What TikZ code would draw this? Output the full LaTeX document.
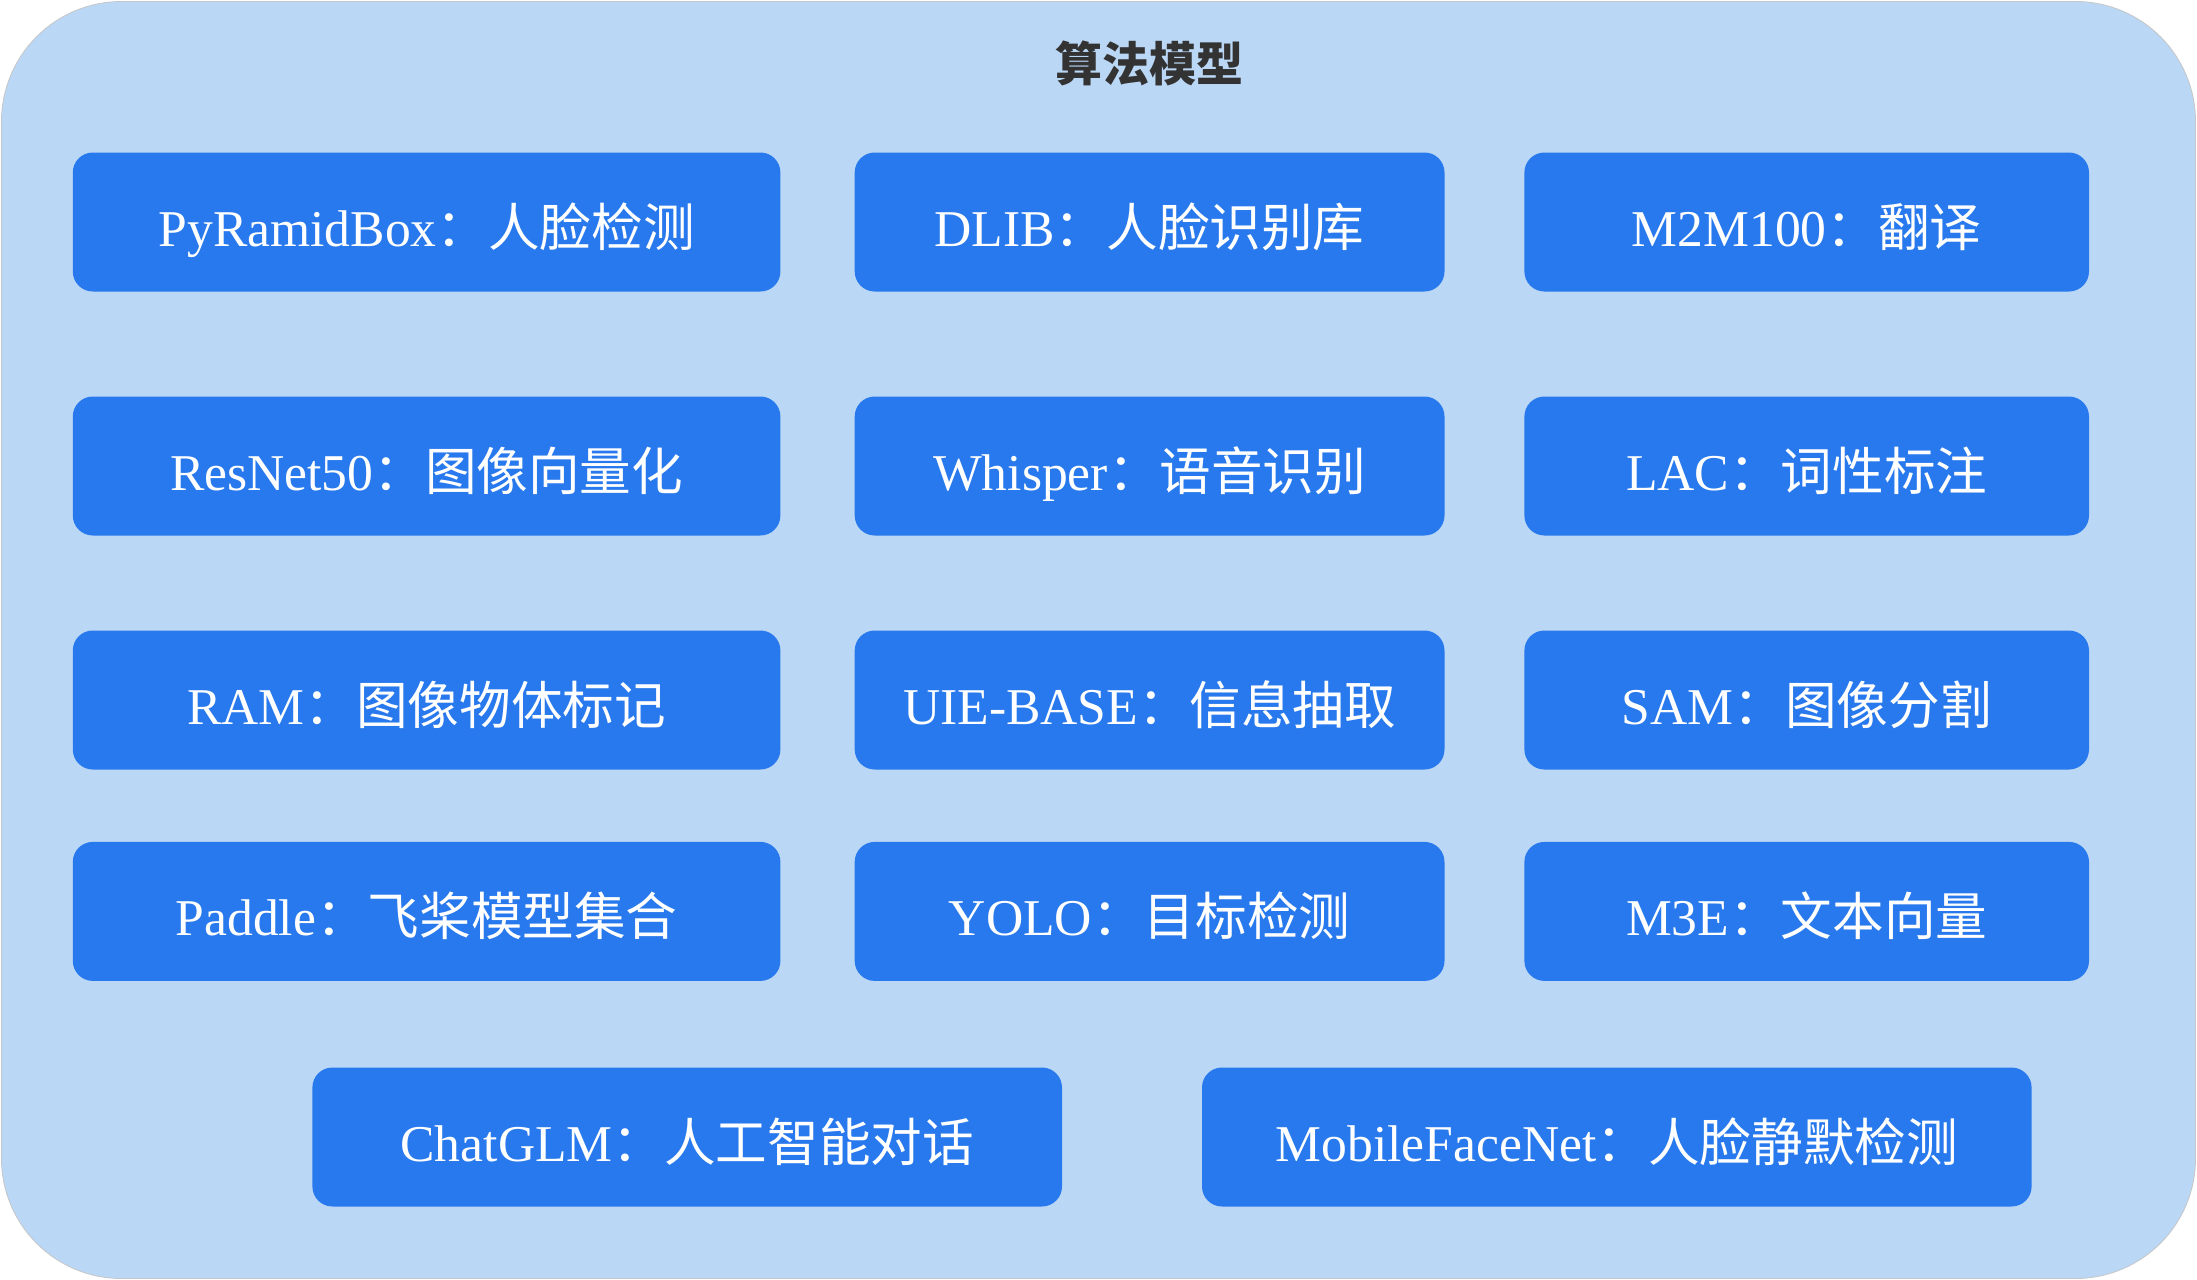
\documentclass[tikz,border=0pt]{standalone}
\usepackage{fontspec}
\setmainfont{Liberation Serif}
\newfontfamily\cjk{Noto Sans CJK SC}
\usepackage{xcolor}
\usetikzlibrary{positioning}
\definecolor{panelblue}{RGB}{186,215,245}
\definecolor{modelblue}{RGB}{40,121,237}
\definecolor{titlegray}{RGB}{51,51,51}
\tikzstyle{modelbox}=[fill=modelblue, rounded corners=10pt, minimum height=69.5pt, inner sep=0pt, text height=27pt, text depth=3pt, text=white, font=\fontsize{25.8}{30}\selectfont]
\newcommand{\colAw}{353.8pt}
\newcommand{\colBw}{294.9pt}
\newcommand{\colCw}{282.3pt}
\newcommand{\mlabel}[2]{#1{\cjk ：#2}}

\begin{document}
\begin{tikzpicture}[x=0.5pt, y=-0.5pt]
\useasboundingbox (0,0) rectangle (2197,1280);
\draw[fill=panelblue, draw=gray!45, rounded corners=60pt] (1.5,1.5) rectangle (2195.5,1278.5);
\node[font=\cjk\bfseries\fontsize{23.5}{28}\selectfont, text=titlegray] (title) at (1149,63) {算法模型};
% row 1
\node[modelbox, minimum width=\colAw] (pyramid) at (426.6,222) {\mlabel{PyRamidBox}{人脸检测}};
\node[modelbox, minimum width=\colBw] (dlib) at (1149.6,222) {\mlabel{DLIB}{人脸识别库}};
\node[modelbox, minimum width=\colCw] (mtm) at (1806.7,222) {\mlabel{M2M100}{翻译}};
% row 2
\node[modelbox, minimum width=\colAw] (resnet) at (426.6,466) {\mlabel{ResNet50}{图像向量化}};
\node[modelbox, minimum width=\colBw] (whisper) at (1149.6,466) {\mlabel{Whisper}{语音识别}};
\node[modelbox, minimum width=\colCw] (lac) at (1806.7,466) {\mlabel{LAC}{词性标注}};
% row 3
\node[modelbox, minimum width=\colAw] (ram) at (426.6,700) {\mlabel{RAM}{图像物体标记}};
\node[modelbox, minimum width=\colBw] (uie) at (1149.6,700) {\mlabel{UIE-BASE}{信息抽取}};
\node[modelbox, minimum width=\colCw] (sam) at (1806.7,700) {\mlabel{SAM}{图像分割}};
% row 4
\node[modelbox, minimum width=\colAw] (paddle) at (426.6,911.4) {\mlabel{Paddle}{飞桨模型集合}};
\node[modelbox, minimum width=\colBw] (yolo) at (1149.6,911.4) {\mlabel{YOLO}{目标检测}};
\node[modelbox, minimum width=\colCw] (mte) at (1806.7,911.4) {\mlabel{M3E}{文本向量}};
% row 5
\node[modelbox, minimum width=374.8pt] (chatglm) at (687.2,1137) {\mlabel{ChatGLM}{人工智能对话}};
\node[modelbox, minimum width=414.8pt] (mobileface) at (1616.8,1137) {\mlabel{MobileFaceNet}{人脸静默检测}};
\end{tikzpicture}
\end{document}
